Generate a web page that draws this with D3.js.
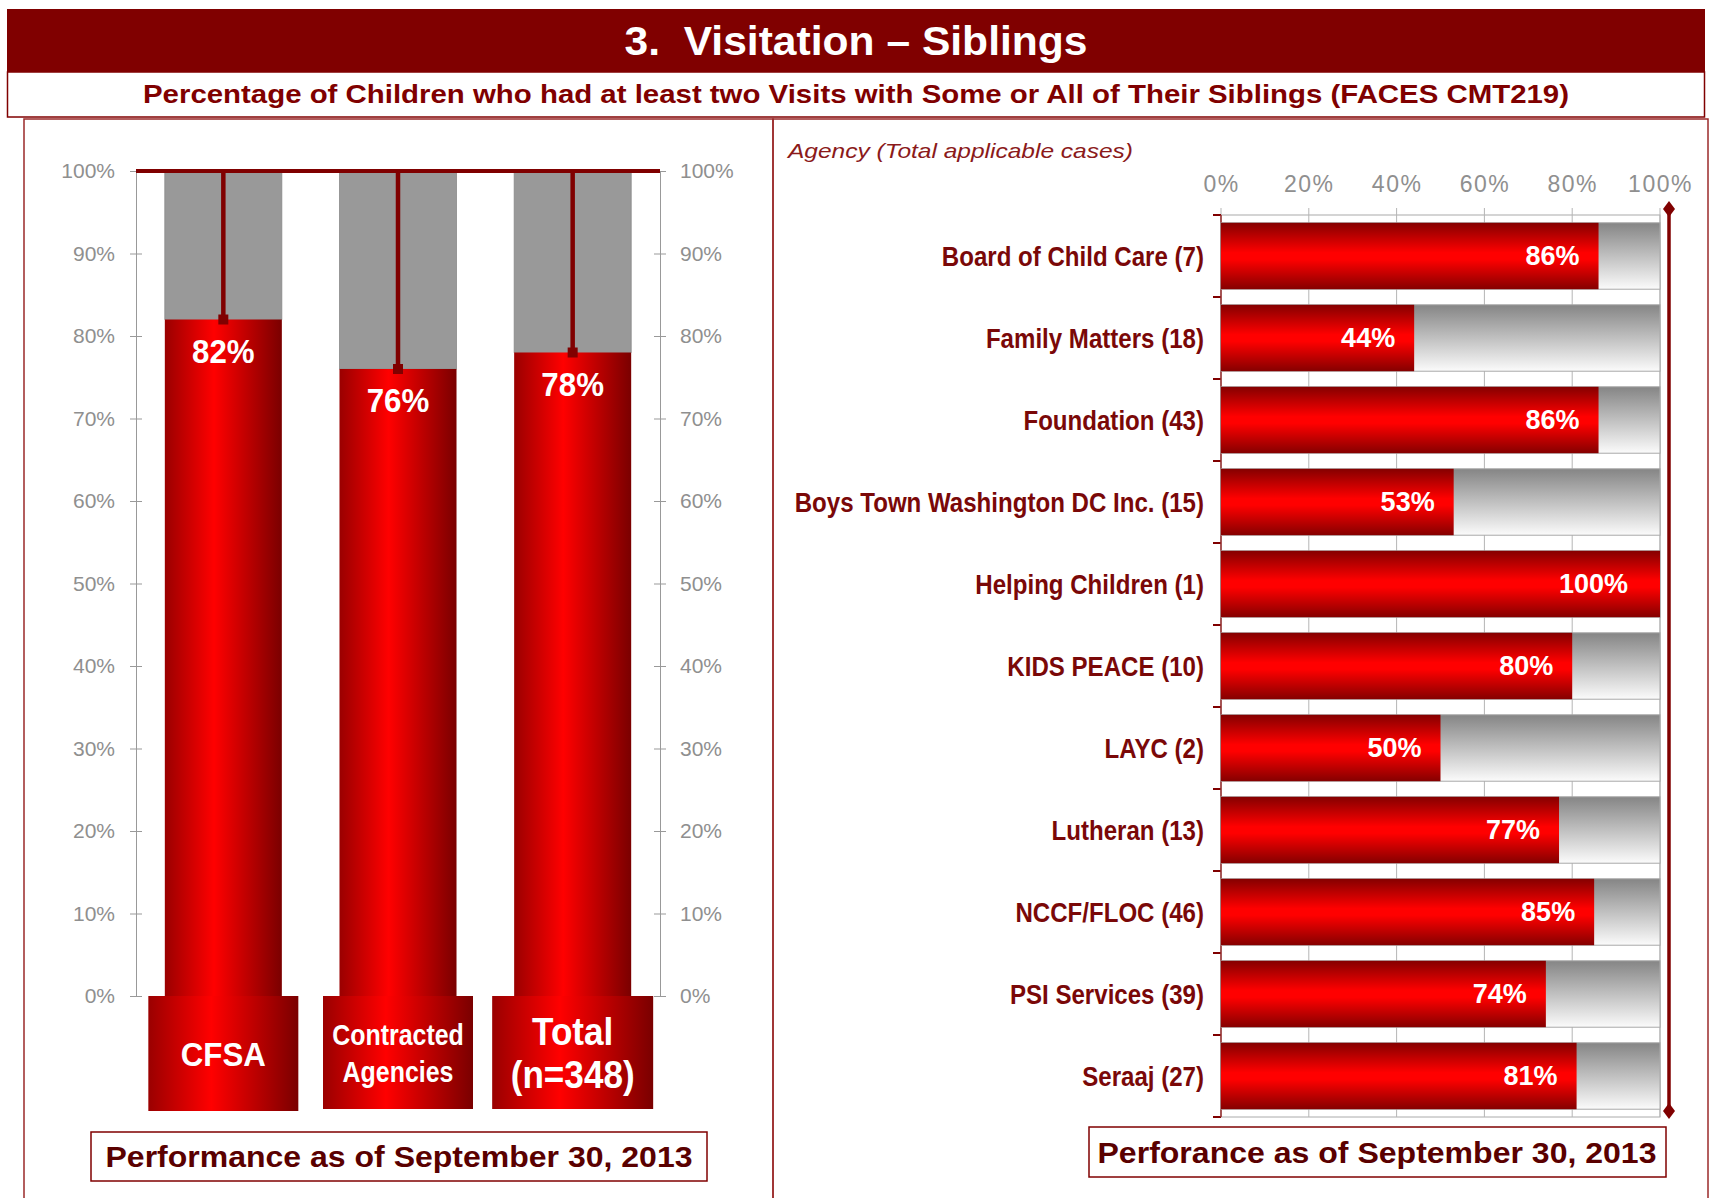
<!DOCTYPE html>
<html><head><meta charset="utf-8">
<script src="https://cdn.jsdelivr.net/npm/d3@7"></script>
<style>
body{margin:0;background:#fff;}
svg{display:block;font-family:"Liberation Sans",Arial,sans-serif;}
</style></head><body>
<svg id="c" width="1711" height="1198"></svg>
<script>
// ---- data ----
const titleText = "3.  Visitation \u2013 Siblings";
const subtitleText = "Percentage of Children who had at least two Visits with Some or All of Their Siblings (FACES CMT219)";
const leftCategories = ["CFSA", "Contracted Agencies", "Total (n=348)"];
const leftCatLines = [["CFSA"], ["Contracted", "Agencies"], ["Total", "(n=348)"]];
const leftValues = [82, 76, 78];
const leftTicks = [0,10,20,30,40,50,60,70,80,90,100];
const agencies = ["Board of Child Care (7)","Family Matters (18)","Foundation (43)","Boys Town Washington DC Inc. (15)","Helping Children (1)","KIDS PEACE (10)","LAYC (2)","Lutheran (13)","NCCF/FLOC (46)","PSI Services (39)","Seraaj (27)"];
const agencyValues = [86,44,86,53,100,80,50,77,85,74,81];
const rightTicks = [0,20,40,60,80,100];
const leftFooter = "Performance as of September 30, 2013";
const rightFooter = "Perforance as of September 30, 2013";
const rightAxisTitle = "Agency (Total applicable cases)";

const svg = d3.select("#c");
const MAROON = "#800000";
const defs = svg.append("defs");
const hg = defs.append("linearGradient").attr("id","redH").attr("x1","0").attr("x2","1").attr("y1","0").attr("y2","0");
[[0,"#9a0000"],[0.42,"#ff0000"],[1,"#7a0000"]].forEach(s=>hg.append("stop").attr("offset",s[0]).attr("stop-color",s[1]));
const vg = defs.append("linearGradient").attr("id","redV").attr("x1","0").attr("x2","0").attr("y1","0").attr("y2","1");
[[0,"#850000"],[0.45,"#ff0000"],[0.55,"#ff0000"],[1,"#850000"]].forEach(s=>vg.append("stop").attr("offset",s[0]).attr("stop-color",s[1]));
const gg = defs.append("linearGradient").attr("id","greyV").attr("x1","0").attr("x2","0").attr("y1","0").attr("y2","1");
[[0,"#858585"],[1,"#fbfbfb"]].forEach(s=>gg.append("stop").attr("offset",s[0]).attr("stop-color",s[1]));

// ---- header ----
svg.append("rect").attr("x",7).attr("y",9).attr("width",1698).attr("height",63).attr("fill",MAROON);
svg.append("text").attr("x",856).attr("y",55).attr("text-anchor","middle").attr("fill","#fff").style("white-space","pre")
  .attr("font-weight","bold").attr("font-size",40).attr("textLength",463).attr("lengthAdjust","spacingAndGlyphs").text(titleText);
svg.append("rect").attr("x",7.5).attr("y",72).attr("width",1697).attr("height",45).attr("fill","#fff").attr("stroke",MAROON).attr("stroke-width",1.5);
svg.append("text").attr("x",856).attr("y",103).attr("text-anchor","middle").attr("fill",MAROON)
  .attr("font-weight","bold").attr("font-size",25).attr("textLength",1426).attr("lengthAdjust","spacingAndGlyphs").text(subtitleText);

// panels
svg.append("rect").attr("x",24).attr("y",119).attr("width",749).attr("height",1090).attr("fill","none").attr("stroke","#9b2a2a").attr("stroke-width",1.5);
svg.append("rect").attr("x",773).attr("y",119).attr("width",935).attr("height",1090).attr("fill","none").attr("stroke","#9b2a2a").attr("stroke-width",1.5);

// ---- left chart ----
const yL = d3.scaleLinear().domain([0,100]).range([996,171]);
const xL = d3.scaleBand().domain(leftCategories).range([136,660]).paddingInner(0.33).paddingOuter(0.165);
const L = svg.append("g");
const axL = L.append("g").attr("transform","translate(136,0)").call(d3.axisLeft(yL).tickValues(leftTicks).tickFormat(d=>d+"%").tickSize(6).tickSizeOuter(0).tickPadding(20));
const axR = L.append("g").attr("transform","translate(660,0)").call(d3.axisRight(yL).tickValues(leftTicks).tickFormat(d=>d+"%").tickSize(6).tickSizeOuter(0).tickPadding(20));
[axL,axR].forEach(a=>{
  a.select(".domain").attr("stroke","#999");
  a.selectAll(".tick line").attr("stroke","#999").attr("x1",-6).attr("x2",6);
  a.selectAll(".tick text").attr("fill","#8f8f8f").attr("font-size",21).attr("font-family","Liberation Sans, Arial, sans-serif");
});
axL.selectAll(".tick text").attr("x",-21);
axR.selectAll(".tick text").attr("x",20);

L.selectAll(".gbar").data(leftCategories).join("rect")
  .attr("x",d=>xL(d)).attr("width",xL.bandwidth()).attr("y",yL(100))
  .attr("height",(d,i)=>yL(leftValues[i])-yL(100)).attr("fill","#999").attr("stroke","#8a8a8a").attr("stroke-width",0.8);
L.selectAll(".rbar").data(leftCategories).join("rect")
  .attr("x",d=>xL(d)).attr("width",xL.bandwidth()).attr("y",(d,i)=>yL(leftValues[i]))
  .attr("height",(d,i)=>yL(0)-yL(leftValues[i])).attr("fill","url(#redH)");
// needle lines
L.selectAll(".needle").data(leftCategories).join("line")
  .attr("x1",d=>xL(d)+xL.bandwidth()/2).attr("x2",d=>xL(d)+xL.bandwidth()/2)
  .attr("y1",yL(100)).attr("y2",(d,i)=>yL(leftValues[i])).attr("stroke",MAROON).attr("stroke-width",4.5);
L.selectAll(".mark").data(leftCategories).join("rect")
  .attr("x",d=>xL(d)+xL.bandwidth()/2-5).attr("y",(d,i)=>yL(leftValues[i])-5).attr("width",10).attr("height",10).attr("fill",MAROON);
L.append("line").attr("x1",136).attr("x2",660).attr("y1",yL(100)).attr("y2",yL(100)).attr("stroke",MAROON).attr("stroke-width",4);
L.selectAll(".lval").data(leftCategories).join("text")
  .attr("transform",(d,i)=>`translate(${xL(d)+xL.bandwidth()/2},${yL(leftValues[i])+43}) scale(0.92,1)`)
  .attr("text-anchor","middle").attr("fill","#fff").attr("font-weight","bold").attr("font-size",34)
  .text((d,i)=>leftValues[i]+"%");
// category boxes
const boxW = [150,150,161];
const boxH = [115,113,113];
const catFont = [34,29,39];
const catScale = [0.92,0.86,0.9];
const catY = [[1066],[1045,1082],[1045,1088]];
leftCategories.forEach((c,i)=>{
  const cx = xL(c)+xL.bandwidth()/2;
  L.append("rect").attr("x",cx-boxW[i]/2).attr("y",yL(0)).attr("width",boxW[i]).attr("height",boxH[i]).attr("fill","url(#redH)");
  leftCatLines[i].forEach((t,j)=>{
    L.append("text").attr("transform",`translate(${cx},${catY[i][j]}) scale(${catScale[i]},1)`).attr("text-anchor","middle").attr("fill","#fff")
      .attr("font-weight","bold").attr("font-size",catFont[i])
      .text(t);
  });
});
L.append("rect").attr("x",91).attr("y",1132).attr("width",616).attr("height",49).attr("fill","#fff").attr("stroke",MAROON).attr("stroke-width",1.5);
L.append("text").attr("x",399).attr("y",1167).attr("text-anchor","middle").attr("fill","#5a0000").attr("font-weight","bold")
  .attr("font-size",30).attr("textLength",587).attr("lengthAdjust","spacingAndGlyphs").text(leftFooter);

// ---- right chart ----
const xR = d3.scaleLinear().domain([0,100]).range([1221,1660]);
const yR = d3.scaleBand().domain(agencies).range([215,1117]).paddingInner(0.19).paddingOuter(0.095);
const R = svg.append("g");
R.append("text").attr("x",788).attr("y",158).attr("fill","#8b1a1a").attr("font-style","italic").attr("font-size",21)
  .attr("textLength",345).attr("lengthAdjust","spacingAndGlyphs").text(rightAxisTitle);
R.append("rect").attr("x",xR(0)).attr("y",215).attr("width",xR(100)-xR(0)).attr("height",902).attr("fill","#fff").attr("stroke","#aaa");
R.selectAll(".grid").data(rightTicks).join("line")
  .attr("x1",d=>xR(d)).attr("x2",d=>xR(d)).attr("y1",208).attr("y2",1117).attr("stroke","#b5b5b5").attr("stroke-width",1);
const axT = R.append("g").attr("transform","translate(0,208)").call(d3.axisTop(xR).tickValues(rightTicks).tickFormat(d=>d+"%").tickSize(0).tickPadding(16));
axT.select(".domain").remove();
axT.selectAll(".tick text").attr("fill","#8f8f8f").attr("font-size",23).attr("letter-spacing","1.5px").attr("font-family","Liberation Sans, Arial, sans-serif");
// left axis ticks at row boundaries
const bounds = agencies.map(a=>yR(a)-yR.step()*yR.paddingInner()/2).concat([1117]);
R.selectAll(".rtick").data(bounds).join("line").attr("x1",xR(0)-8).attr("x2",xR(0)).attr("y1",d=>d).attr("y2",d=>d).attr("stroke",MAROON).attr("stroke-width",2);
R.append("line").attr("x1",xR(0)).attr("x2",xR(0)).attr("y1",215).attr("y2",1117).attr("stroke","#9b3030").attr("stroke-width",1.5);
R.selectAll(".bg").data(agencies).join("rect")
  .attr("x",xR(0)).attr("width",xR(100)-xR(0)).attr("y",d=>yR(d)).attr("height",yR.bandwidth())
  .attr("fill","url(#greyV)").attr("stroke","#a8a8a8").attr("stroke-width",1);
R.selectAll(".bar").data(agencies).join("rect")
  .attr("x",xR(0)).attr("width",(d,i)=>xR(agencyValues[i])-xR(0)).attr("y",d=>yR(d)).attr("height",yR.bandwidth())
  .attr("fill","url(#redV)");
R.selectAll(".val").data(agencies).join("text")
  .attr("x",(d,i)=>xR(agencyValues[i])-(agencyValues[i]===100?32:19)).attr("y",d=>yR(d)+yR.bandwidth()/2+9)
  .attr("text-anchor","end").attr("fill","#fff").attr("font-weight","bold").attr("font-size",27)
  .text((d,i)=>agencyValues[i]+"%");
R.selectAll(".lab").data(agencies).join("text")
  .attr("transform",d=>`translate(1204,${yR(d)+yR.bandwidth()/2+10}) scale(0.86,1)`)
  .attr("text-anchor","end").attr("fill","#7a0808").attr("font-weight","bold").attr("font-size",28)
  .text(d=>d);
// right marker line
R.append("line").attr("x1",1669).attr("x2",1669).attr("y1",212).attr("y2",1108).attr("stroke",MAROON).attr("stroke-width",3.5);
[209,1111].forEach(y=>R.append("path").attr("d",`M1669,${y-8}L1675,${y}L1669,${y+8}L1663,${y}Z`).attr("fill",MAROON));
R.append("rect").attr("x",1089).attr("y",1127).attr("width",577).attr("height",50).attr("fill","#fff").attr("stroke",MAROON).attr("stroke-width",1.5);
R.append("text").attr("x",1377).attr("y",1163).attr("text-anchor","middle").attr("fill","#5a0000").attr("font-weight","bold")
  .attr("font-size",30).attr("textLength",559).attr("lengthAdjust","spacingAndGlyphs").text(rightFooter);
</script></body></html>
